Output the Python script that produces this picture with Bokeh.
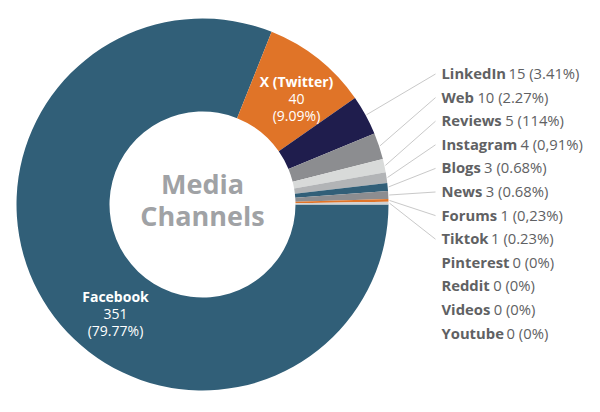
from bokeh.plotting import figure
from bokeh.models import Range1d, ColumnDataSource
from bokeh.embed import file_html
from bokeh.resources import INLINE
from bokeh.core.properties import value
import math

# ---- data ----
names = ["Facebook", "X (Twitter)", "LinkedIn", "Web", "Reviews", "Instagram", "Blogs",
         "News", "Forums", "Tiktok", "Pinterest", "Reddit", "Videos", "Youtube"]
counts = [351, 40, 15, 10, 5, 4, 3, 3, 1, 1, 0, 0, 0, 0]
pct_labels = ["79.77%", "9.09%", "3.41%", "2.27%", "114%", "0,91%", "0.68%",
              "0.68%", "0,23%", "0.23%", "0%", "0%", "0%", "0%"]
colors = ["#315f78", "#e07428", "#1f1d4d", "#8c8d90", "#d8dad9", "#b2b4b6", "#315f78",
          "#8c8d90", "#e07428", "#cfd1d2", "#cccccc", "#cccccc", "#cccccc", "#cccccc"]
center_title = ["Media", "Channels"]

W, H = 584, 396
def X(rx): return rx - 1
def Y(ry): return H - (ry - 1)

p = figure(width=W, height=H, output_backend="svg", toolbar_location=None,
           x_range=Range1d(0, W), y_range=Range1d(0, H), min_border=0)
p.axis.visible = False
p.grid.visible = False
p.outline_line_color = None
p.background_fill_color = "white"

cx, cy = X(203), Y(205)
R_OUT, R_IN = 186, 93

total = sum(counts)
# slices drawn anticlockwise from 3 o'clock, smallest channels first
order = list(range(len(names)))[::-1]
starts = [0.0] * len(names)
ends = [0.0] * len(names)
acc = 0.0
for i in order:
    a = counts[i] / total * 2 * math.pi
    starts[i] = acc
    ends[i] = acc + a
    acc += a

nz = [i for i in range(len(names)) if counts[i] > 0]
src = ColumnDataSource(dict(x=[cx] * len(nz), y=[cy] * len(nz),
                            s=[starts[i] for i in nz], e=[ends[i] for i in nz],
                            c=[colors[i] for i in nz]))
p.annular_wedge(x="x", y="y", inner_radius=R_IN, outer_radius=R_OUT,
                start_angle="s", end_angle="e", fill_color="c", line_color=None, source=src)

# ---- side labels ----
BOLD_W = {' ': .26, 'a': .60, 'b': .635, 'c': .51, 'd': .635, 'e': .59, 'g': .56, 'i': .29,
          'k': .60, 'l': .29, 'm': .97, 'n': .64, 'o': .62, 'r': .45, 's': .50, 't': .43,
          'u': .64, 'v': .57, 'w': .86, 'B': .67, 'F': .56, 'I': .34, 'L': .55, 'N': .80,
          'P': .63, 'R': .67, 'T': .57, 'V': .65, 'W': .96, 'Y': .60}
FS = 14.8
def bold_width(s):
    return sum(BOLD_W.get(ch, .6) for ch in s) * FS

text_col = "#606163"
row0, row_step = 73.5, 23.6
lx = 442
side = list(range(2, len(names)))
bx, by, bt, rx_, ry_, rt = [], [], [], [], [], []
lxs, lys = [], []
for k, i in enumerate(side):
    ry = row0 + k * row_step
    bx.append(X(lx)); by.append(Y(ry)); bt.append(names[i])
    rx_.append(X(lx) + bold_width(names[i]) + 0.24 * FS)
    ry_.append(Y(ry)); rt.append(f"{counts[i]} ({pct_labels[i]})")
    if counts[i] > 0:
        mid = (starts[i] + ends[i]) / 2
        x0 = cx + (R_OUT + 1) * math.cos(mid)
        y0 = cy + (R_OUT + 1) * math.sin(mid)
        lxs.append([x0, X(436)]); lys.append([y0, Y(ry + 1)])

p.multi_line(xs=lxs, ys=lys, line_color="#c9c9c9", line_width=1)
p.text(x=bx, y=by, text=bt, text_font=value("Open Sans"), text_font_style="bold",
       text_font_size=f"{FS}px", text_color=text_col, text_baseline="middle", text_align="left")
p.text(x=rx_, y=ry_, text=rt, text_font=value("Open Sans"),
       text_font_size=f"{FS}px", text_color=text_col, text_baseline="middle", text_align="left")

# ---- in-slice labels ----
def slice_label(i, rxc, rys):
    p.text(x=[X(rxc)], y=[Y(rys[0])], text=[names[i]], text_font=value("Open Sans"),
           text_font_style="bold", text_font_size="14px", text_color="white",
           text_baseline="middle", text_align="center")
    p.text(x=[X(rxc)] * 2, y=[Y(rys[1]), Y(rys[2])],
           text=[str(counts[i]), f"({pct_labels[i]})"], text_font=value("Open Sans"),
           text_font_size="14px", text_color="white",
           text_baseline="middle", text_align="center")

slice_label(1, 297, [82, 99, 116])
slice_label(0, 116, [297, 314, 331])

# ---- center title ----
p.text(x=[X(203)] * 2, y=[Y(184), Y(216)], text=center_title, text_font=value("Open Sans"),
       text_font_style="bold", text_font_size="27px", text_color="#a0a2a5",
       text_baseline="middle", text_align="center")

open("out.html", "w").write(file_html(p, INLINE))
